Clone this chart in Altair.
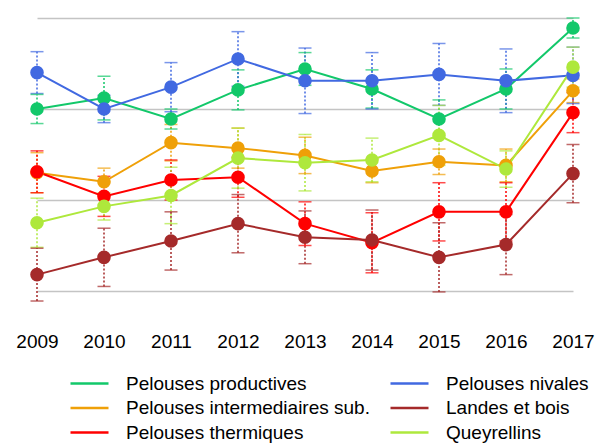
import altair as alt
import pandas as pd

years = ["2009", "2010", "2011", "2012", "2013", "2014", "2015", "2016", "2017"]

# legend fills column by column: left column first, then right column
series = [
    "Pelouses productives",
    "Pelouses intermediaires sub.",
    "Pelouses thermiques",
    "Pelouses nivales",
    "Landes et bois",
    "Queyrellins",
]
colors = ["#12C86A", "#EFA008", "#FF0000", "#4169E1", "#A52A2A", "#AEE83C"]

productives = [2.00, 2.12, 1.89, 2.21, 2.44, 2.22, 1.89, 2.22, 2.89]
intermediaires = [1.30, 1.20, 1.63, 1.57, 1.49, 1.32, 1.42, 1.38, 2.20]
thermiques = [1.31, 1.04, 1.22, 1.25, 0.74, 0.53, 0.87, 0.87, 1.96]
nivales = [2.40, 2.00, 2.24, 2.55, 2.31, 2.31, 2.38, 2.31, 2.37]
landes = [0.18, 0.37, 0.55, 0.74, 0.59, 0.56, 0.37, 0.51, 1.29]
queyrellins = [0.75, 0.93, 1.05, 1.46, 1.41, 1.44, 1.71, 1.34, 2.46]

err_productives = [0.16, 0.24, 0.11, 0.22, 0.18, 0.21, 0.21, 0.22, 0.11]
err_intermediaires = [0.22, 0.15, 0.20, 0.22, 0.20, 0.13, 0.14, 0.18, 0.13]
err_thermiques = [0.23, 0.22, 0.22, 0.22, 0.24, 0.33, 0.32, 0.32, 0.22]
err_nivales = [0.23, 0.15, 0.27, 0.30, 0.36, 0.31, 0.34, 0.35, 0.31]
err_landes = [0.29, 0.32, 0.32, 0.32, 0.29, 0.33, 0.38, 0.33, 0.32]
err_queyrellins = [0.27, 0.15, 0.31, 0.33, 0.31, 0.24, 0.33, 0.20, 0.22]

values = [productives, intermediaires, thermiques, nivales, landes, queyrellins]
errors = [err_productives, err_intermediaires, err_thermiques, err_nivales,
          err_landes, err_queyrellins]

rows = []
for name, vals, errs in zip(series, values, errors):
    for yr, v, e in zip(years, vals, errs):
        rows.append({"serie": name, "annee": yr, "valeur": v,
                     "bas": v - e, "haut": v + e})
df = pd.DataFrame(rows)

FONT = "Liberation Sans"

color = alt.Color(
    "serie:N",
    scale=alt.Scale(domain=series, range=colors),
    sort=series,
    legend=alt.Legend(
        orient="none", legendX=32, legendY=354, columns=2, title=None,
        symbolType="stroke", symbolSize=1444, symbolStrokeWidth=2.5,
        symbolOpacity=1, labelFont=FONT, labelFontSize=19, labelColor="#000000",
        labelFontWeight="normal", clipHeight=23,
        labelOffset=16, columnPadding=19, rowPadding=1.5, labelLimit=400,
    ),
)

x = alt.X(
    "annee:O", title=None, sort=years,
    scale=alt.Scale(type="point", padding=0),
    axis=alt.Axis(labelAngle=0, domain=False, ticks=False, tickSize=0,
                  labelPadding=41, labelFont=FONT, labelFontSize=19,
                  labelFontWeight="normal",
                  labelColor="#000000", grid=False),
)
y = alt.Y(
    "valeur:Q", title=None,
    scale=alt.Scale(domain=[0, 3], nice=False, zero=False),
    axis=alt.Axis(values=[0, 1, 2, 3], labels=False, domain=False, ticks=False,
                  grid=True, gridColor="#C4C4C4", gridWidth=1.5),
)

base = alt.Chart(df)

bars = base.mark_rule(strokeWidth=1.5, strokeDash=[2, 2]).encode(
    x=x, y=alt.Y("bas:Q"), y2="haut:Q", color=color)
cap_lo = base.mark_tick(size=13, thickness=1.5, strokeDash=[2, 2]).encode(
    x=x, y=alt.Y("bas:Q"), color=color)
cap_hi = base.mark_tick(size=13, thickness=1.5, strokeDash=[2, 2]).encode(
    x=x, y=alt.Y("haut:Q"), color=color)
lines = base.mark_line(strokeWidth=2).encode(x=x, y=y, color=color)
points = base.mark_circle(size=185, opacity=1).encode(x=x, y=y, color=color)

chart = (
    alt.layer(bars, cap_lo, cap_hi, lines, points)
    .properties(
        width=536, height=273,
        autosize=alt.AutoSizeParams(type="none"),
        padding={"left": 37, "top": 18, "right": 22, "bottom": 152},
        background="#FFFFFF",
    )
    .configure_view(stroke=None)
)

chart.save("out.html", embed_options={"renderer": "svg", "actions": False})
